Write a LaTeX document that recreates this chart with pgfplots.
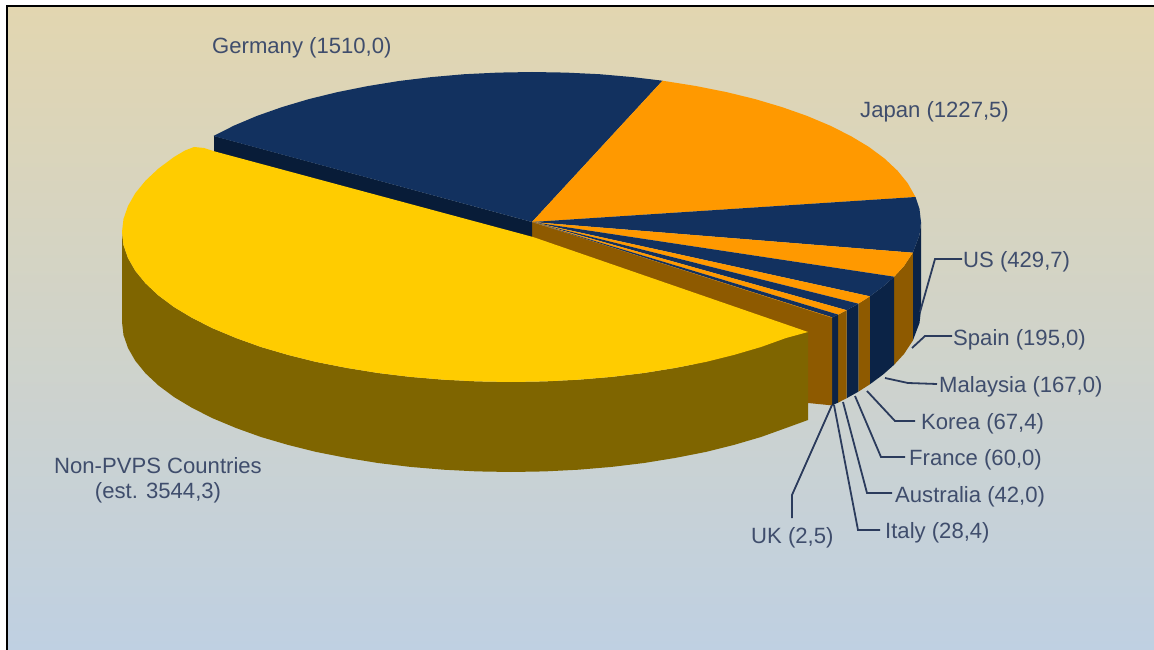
\documentclass[border=0pt]{standalone}
\usepackage{pgfplots}
\pgfplotsset{compat=1.18}
\usepackage{fontspec}
\setmainfont{Liberation Sans}

\definecolor{frametop}{HTML}{E2D6B0}
\definecolor{framebot}{HTML}{BFD0E2}
\definecolor{navytop}{HTML}{12315F}
\definecolor{navyside}{HTML}{0B2346}
\definecolor{navycut}{HTML}{081C38}
\definecolor{orangetop}{HTML}{FF9900}
\definecolor{orangeside}{HTML}{8E5A00}
\definecolor{yellowtop}{HTML}{FFCC00}
\definecolor{yellowside}{HTML}{7F6500}
\definecolor{labeltext}{HTML}{3F4D6C}
\definecolor{leader}{HTML}{2B3B5C}

\begin{document}
\begin{tikzpicture}
\begin{axis}[
  scale only axis, width=1154pt, height=650pt,
  xmin=0, xmax=1154, ymin=0, ymax=650, y dir=reverse,
  hide axis, clip=false,
  every axis plot/.append style={forget plot},
  nodes={font=\fontsize{22.1}{26}\selectfont, text=labeltext, inner sep=0pt},
]
% page and framed gradient panel
\path[fill=white] (axis cs:0,0) rectangle (axis cs:1154,650);
\path[top color=frametop, bottom color=framebot] (axis cs:7,6) rectangle (axis cs:1154,650);
\path[fill=black] (axis cs:6,5) rectangle (axis cs:8,650);
\path[fill=black] (axis cs:6,5) rectangle (axis cs:1154,7);

% rim of the pie, slice by slice
\addplot[fill=navyside, draw=none] coordinates {(921,222)(919.5,235)(912.8,252.7)(912.8,340.7)(919.5,323)(921,310)} --cycle;
\addplot[fill=orangeside, draw=none] coordinates {(912.8,252.7)(904,266)(894.2,276.7)(894.2,364.7)(904,354)(912.8,340.7)} --cycle;
\addplot[fill=navyside, draw=none] coordinates {(894.2,276.7)(883,286.6)(869.9,296.3)(869.9,384.3)(883,374.6)(894.2,364.7)} --cycle;
\addplot[fill=orangeside, draw=none] coordinates {(869.9,296.3)(858.3,303.7)(858.3,391.7)(869.9,384.3)} --cycle;
\addplot[fill=navyside, draw=none] coordinates {(858.3,303.7)(846.7,310.2)(846.7,398.2)(858.3,391.7)} --cycle;
\addplot[fill=orangeside, draw=none] coordinates {(846.7,310.2)(838.1,314.6)(838.1,402.6)(846.7,398.2)} --cycle;
\addplot[fill=navyside, draw=none] coordinates {(838.1,314.6)(832.2,317.4)(832.2,405.4)(838.1,402.6)} --cycle;
% inner cut faces
\addplot[fill=orangeside, draw=none] coordinates {(532,222)(832.2,317.4)(832.2,405.4)(808,403)(532,310)} --cycle;
\addplot[fill=navycut, draw=none] coordinates {(214,136)(532,222)(532,310)(214,224)} --cycle;

% top faces: Germany, Japan, US, Spain, Malaysia, Korea, France, Australia, Italy, UK
\addplot[fill=navytop, draw=none] coordinates {(532,222)(213.5,136)(234,125.6)(257,115.9)(282,107.1)(308.9,99.1)(337.5,92.1)(367.6,86.1)(399,81)(431.3,77.1)(464.5,74.2)(498.1,72.6)(532,72)(565.9,72.6)(599.5,74.2)(632.7,77.1)(662.5,80.7)} --cycle;
\addplot[fill=orangetop, draw=none] coordinates {(532,222)(662.5,80.7)(696.4,86.1)(726.5,92.1)(755.1,99.1)(782,107.1)(807,115.9)(830,125.6)(850.7,136)(869,147)(884.6,158.6)(897.5,170.7)(907.7,183.2)(915.5,197)} --cycle;
\addplot[fill=navytop, draw=none] coordinates {(532,222)(915.5,197)(919.5,209)(921,222)(919.5,235)(912.8,252.7)} --cycle;
\addplot[fill=orangetop, draw=none] coordinates {(532,222)(912.8,252.7)(904,266)(894.2,276.7)} --cycle;
\addplot[fill=navytop, draw=none] coordinates {(532,222)(894.2,276.7)(883,286.6)(869.9,296.3)} --cycle;
\addplot[fill=orangetop, draw=none] coordinates {(532,222)(869.9,296.3)(858.3,303.7)} --cycle;
\addplot[fill=navytop, draw=none] coordinates {(532,222)(858.3,303.7)(846.7,310.2)} --cycle;
\addplot[fill=orangetop, draw=none] coordinates {(532,222)(846.7,310.2)(838.1,314.6)} --cycle;
\addplot[fill=navytop, draw=none] coordinates {(532,222)(838.1,314.6)(832.2,317.4)} --cycle;
\addplot[fill=orangetop, draw=none] coordinates {(532,222)(832.2,317.4)(831.7,317.6)} --cycle;

% exploded slice: Non-PVPS Countries
\addplot[fill=yellowside, draw=none] coordinates {(122,232)(123.5,245.1)(128,258)(135.3,270.8)(145.5,283.3)(158.4,295.4)(174,307)(192.3,318)(213,328.4)(236,338)(261,347)(288,354.9)(316.5,362)(346.6,367.9)(378,373)(410.3,376.9)(443.5,379.7)(477.1,381.4)(511,382)(544.9,381.4)(578.5,379.7)(611.7,376.9)(644,373)(675.4,367.9)(705.5,362)(734,354.9)(761,347)(786,338)(808,332)
 (808,420)(786,428)(761,437)(734,444.9)(705.5,452)(675.4,457.9)(644,463)(611.7,466.9)(578.5,469.7)(544.9,471.4)(511,472)(477.1,471.4)(443.5,469.7)(410.3,466.9)(378,463)(346.6,457.9)(316.5,452)(288,444.9)(261,437)(236,428)(213,418.4)(192.3,408)(174,397)(158.4,385.4)(145.5,373.3)(135.3,360.8)(128,348)(123.5,335.1)(122,322)} --cycle;
\addplot[fill=yellowtop, draw=none] coordinates {(533,237)(808,332)(786,338)(761,347)(734,354.9)(705.5,362)(675.4,367.9)(644,373)(611.7,376.9)(578.5,379.7)(544.9,381.4)(511,382)(477.1,381.4)(443.5,379.7)(410.3,376.9)(378,373)(346.6,367.9)(316.5,362)(288,354.9)(261,347)(236,338)(213,328.4)(192.3,318)(174,307)(158.4,295.4)(145.5,283.3)(135.3,270.8)(128,258)(123.5,245.1)(122,232)(123.5,218.9)(128,206)(135.3,193.2)(145.5,180.7)(158.4,168.6)(174,157)(185,150.5)(194,147)(204,148)(215,151.5)} --cycle;

% leader lines
\addplot[leader, line width=1.8pt] coordinates {(962,259)(935,259)(920,312)};
\addplot[leader, line width=1.8pt] coordinates {(952,336)(925,336)(912,348)};
\addplot[leader, line width=1.8pt] coordinates {(937,384)(908,383)(885,378)};
\addplot[leader, line width=1.8pt] coordinates {(915,421)(895,421)(867,391)};
\addplot[leader, line width=1.8pt] coordinates {(905,457)(881,457)(855,396)};
\addplot[leader, line width=1.8pt] coordinates {(892,493)(867,493)(843,402)};
\addplot[leader, line width=1.8pt] coordinates {(880,530)(858,530)(834,405)};
\addplot[leader, line width=1.8pt] coordinates {(792,518)(792,495)(832,405)};

% labels
\node[anchor=west] at (axis cs:212,48) {Germany (1510,0)};
\node[anchor=west] at (axis cs:860,112) {Japan (1227,5)};
\node[anchor=west] at (axis cs:963,262) {US (429,7)};
\node[anchor=west] at (axis cs:953,340) {Spain (195,0)};
\node[anchor=west] at (axis cs:939,387) {Malaysia (167,0)};
\node[anchor=west] at (axis cs:921,424) {Korea (67,4)};
\node[anchor=west] at (axis cs:909,460) {France (60,0)};
\node[anchor=west] at (axis cs:895,497) {Australia (42,0)};
\node[anchor=west] at (axis cs:885,533) {Italy (28,4)};
\node[anchor=west] at (axis cs:751,538) {UK (2,5)};
\node at (axis cs:158,466) {Non-PVPS Countries};
\node at (axis cs:158,493) {(est. 3544,3)};
\end{axis}
\end{tikzpicture}
\end{document}
